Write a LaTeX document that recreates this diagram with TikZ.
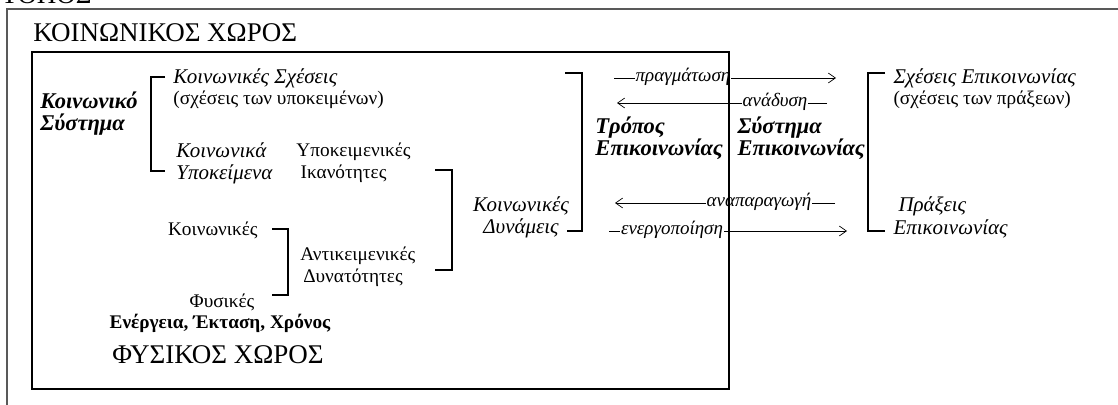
\documentclass[tikz,border=0pt]{standalone}
\usepackage{fontspec}
\setmainfont{Liberation Serif}
\usetikzlibrary{arrows.meta}

\begin{document}
\begin{tikzpicture}[x=0.025cm,y=-0.025cm,line width=.7pt,
    txt/.style={inner sep=0pt,align=left,font=\fontsize{13.7}{15.6}\selectfont},
    itx/.style={txt,font=\fontsize{14.9}{15.6}\selectfont\itshape},
    bitx/.style={txt,font=\fontsize{16}{15.6}\selectfont\bfseries\itshape},
    big/.style={inner sep=0pt,font=\fontsize{19.2}{21}\selectfont},
    brk/.style={line width=1.4pt},
    flow/.style={line width=.5pt,-{Straight Barb[length=5pt,width=7pt]}},
    lbl/.style={fill=white,inner sep=.5pt,font=\fontsize{13.5}{14}\selectfont\itshape}]
          \useasboundingbox (0,0) rectangle (1118,405);
          \draw[black!65,line width=1pt] (7,405) -- (7,9) -- (1118,9);
          \node[big,anchor=base west] (topos) at (1,4) {ΤΟΠΟΣ};
          \node[big,anchor=west] (socspace) at (33,33) {ΚΟΙΝΩΝΙΚΟΣ ΧΩΡΟΣ};

          \draw[brk] (165,77) -- (151,77) -- (151,171) -- (165,171);
          \draw[brk] (435,170) -- (452,170) -- (452,270) -- (435,270);
          \draw[brk] (272,229) -- (288,229) -- (288,295) -- (272,295);
          \draw[brk] (565,73) -- (582,73) -- (582,231) -- (567,231);
          \draw[brk] (885,73) -- (868,73) -- (868,231) -- (885,231);

          \node[bitx,anchor=west] (socsys) at (40,114) {Κοινωνικό\\Σύστημα};
          \node[itx,anchor=west] (socrel) at (173,78) {Κοινωνικές Σχέσεις};
          \node[txt,anchor=west] (subjrel) at (173,100) {(σχέσεις των υποκειμένων)};
          \node[itx,anchor=west] (subj) at (176,163) {Κοινωνικά\\Υποκείμενα};
          \node[txt,anchor=west] (subjcap) at (296,163) {Υποκειμενικές\\\hspace*{3pt}Ικανότητες};
          \node[txt,anchor=east] (socnat) at (258,230) {Κοινωνικές};
          \node[txt,anchor=west] (objcap) at (300,267) {Αντικειμενικές\\\hspace*{2pt}Δυνατότητες};
          \node[txt] (phys) at (222,302) {Φυσικές};
          \node[txt,font=\fontsize{13.7}{15}\selectfont\bfseries] (energy) at (220,323) {Ενέργεια, Έκταση, Χρόνος};
          \node[big] (physspace) at (218,355) {ΦΥΣΙΚΟΣ ΧΩΡΟΣ};
          \node[itx,align=center] (socforces) at (521,217) {Κοινωνικές\\Δυνάμεις};
          \node[bitx,anchor=west] (mode) at (595,138) {Τρόπος\\Επικοινωνίας};
          \node[bitx,anchor=west] (system) at (737,138) {Σύστημα\\Επικοινωνίας};
          \node[itx,anchor=west] (comrel) at (893,78) {Σχέσεις Επικοινωνίας};
          \node[txt,anchor=west] (actrel) at (893,100) {(σχέσεις των πράξεων)};
          \node[itx,anchor=west] (acts) at (898,206) {Πράξεις};
          \node[itx,anchor=west] (comacts) at (893,229) {Επικοινωνίας};

          \coordinate (p1) at (614,78);  \coordinate (p2) at (836,78);
          \coordinate (a1) at (827,103); \coordinate (a2) at (617,103);
          \coordinate (r1) at (835,203); \coordinate (r2) at (615,203);
          \coordinate (e1) at (609,231); \coordinate (e2) at (847,231);
          \draw[flow] (p1) -- (p2);
          \draw[flow] (a1) -- (a2);
          \draw[flow] (r1) -- (r2);
          \draw[flow] (e1) -- (e2);
          \path (683,77)node[lbl](realise){πραγμάτωση} (775,102)node[lbl](emerge){ανάδυση}
                (759,202)node[lbl](reprod){αναπαραγωγή} (672,230)node[lbl](activ){ενεργοποίηση};

          \draw[line width=1.1pt] (32,52) rectangle (729,389);
        \end{tikzpicture}
\end{document}
